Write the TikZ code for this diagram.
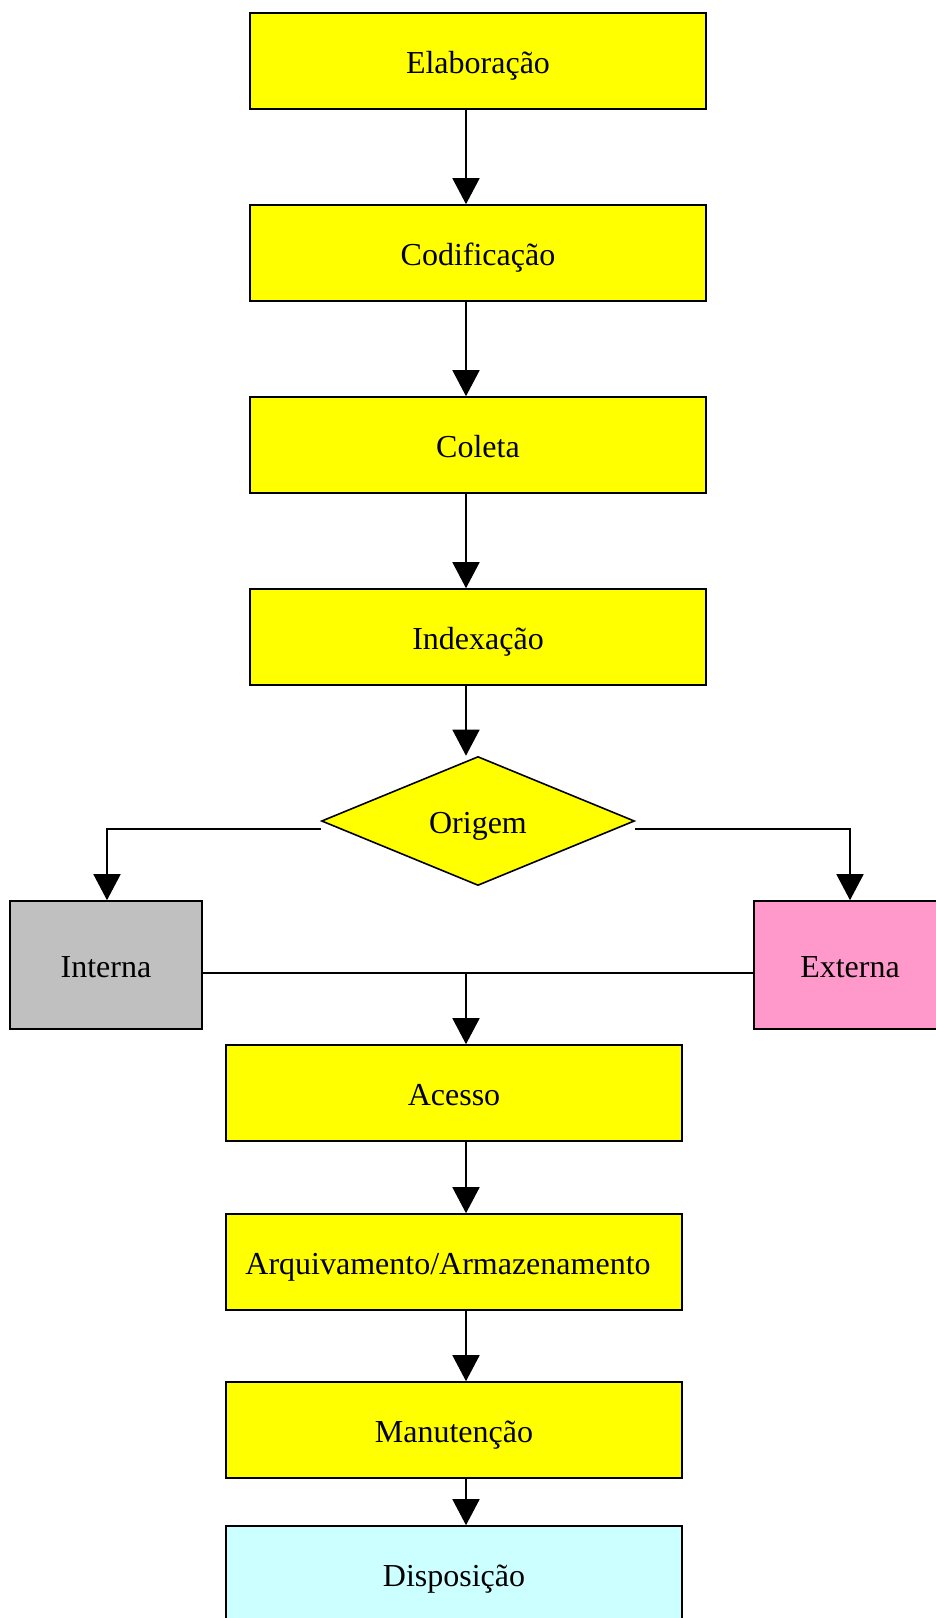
\documentclass[tikz,border=0pt]{standalone}
\usepackage{fontspec}
\setmainfont{Liberation Serif}
\usetikzlibrary{arrows.meta,shapes.geometric}
\definecolor{boxyellow}{HTML}{FFFF00}
\definecolor{boxgray}{HTML}{C0C0C0}
\definecolor{boxpink}{HTML}{FF99CC}
\definecolor{boxcyan}{HTML}{CCFFFF}
\tikzset{
  labeltext/.style={font=\fontsize{32}{38}\selectfont, text height=24pt, text depth=0pt},
  stage/.style={draw=black, line width=1.6pt, fill=boxyellow, rectangle,
    minimum width=456pt, minimum height=96pt, inner sep=0pt, labeltext},
  source/.style={stage, minimum width=192pt, minimum height=128pt},
  decision/.style={draw=black, line width=1.6pt, fill=boxyellow, diamond,
    minimum width=313pt, minimum height=129pt, inner sep=0pt, labeltext},
  flow/.style={line width=1.6pt, -{Triangle[width=27pt,length=26pt]}},
  link/.style={line width=1.6pt}
}
\begin{document}
\begin{tikzpicture}[x=1pt,y=-1pt]
  \useasboundingbox (0,0) rectangle (936,1618);
  \clip (0,0) rectangle (936,1618);

  % upper chain
  \node[stage] (elab) at (478,61)  {Elaboração};
  \node[stage] (cod)  at (478,253) {Codificação};
  \node[stage] (col)  at (478,445) {Coleta};
  \node[stage] (idx)  at (478,637) {Indexação};
  \node[decision] (orig) at (478,821) {Origem};

  % origin branches
  \node[source, fill=boxgray] (int) at (106,965) {Interna};
  \node[source, fill=boxpink] (ext) at (850,965) {Externa};

  % lower chain
  \node[stage] (acc)  at (454,1093) {Acesso};
  \node[stage] (arq)  at (454,1262) {\hspace*{-12pt}Arquivamento/Armazenamento};
  \node[stage] (man)  at (454,1430) {Manutenção};
  \node[stage, fill=boxcyan] (disp) at (454,1574) {Disposição};

  % connectors of the upper chain (column at x = 466)
  \draw[flow] ([xshift=-12pt]elab.south) -- ([xshift=-12pt]cod.north);
  \draw[flow] ([xshift=-12pt]cod.south)  -- ([xshift=-12pt]col.north);
  \draw[flow] ([xshift=-12pt]col.south)  -- ([xshift=-12pt]idx.north);
  \draw[flow] ([xshift=-12pt]idx.south)  -- ([xshift=-12pt]orig.north);

  % decision outputs
  \draw[flow] ([yshift=-8pt]orig.west) -| ([xshift=1pt]int.north);
  \draw[flow] ([yshift=-8pt]orig.east) -| (ext.north);

  % merge line back into the main column
  \draw[link] ([yshift=-8pt]int.east) -- ([yshift=-8pt]ext.west);
  \coordinate (merge) at ([xshift=12pt,yshift=-8pt]acc.north |- int.east);
  \draw[flow] (merge) -- ([xshift=12pt]acc.north);

  % connectors of the lower chain
  \draw[flow] ([xshift=12pt]acc.south) -- ([xshift=12pt]arq.north);
  \draw[flow] ([xshift=12pt]arq.south) -- ([xshift=12pt]man.north);
  \draw[flow] ([xshift=12pt]man.south) -- ([xshift=12pt]disp.north);
\end{tikzpicture}
\end{document}
